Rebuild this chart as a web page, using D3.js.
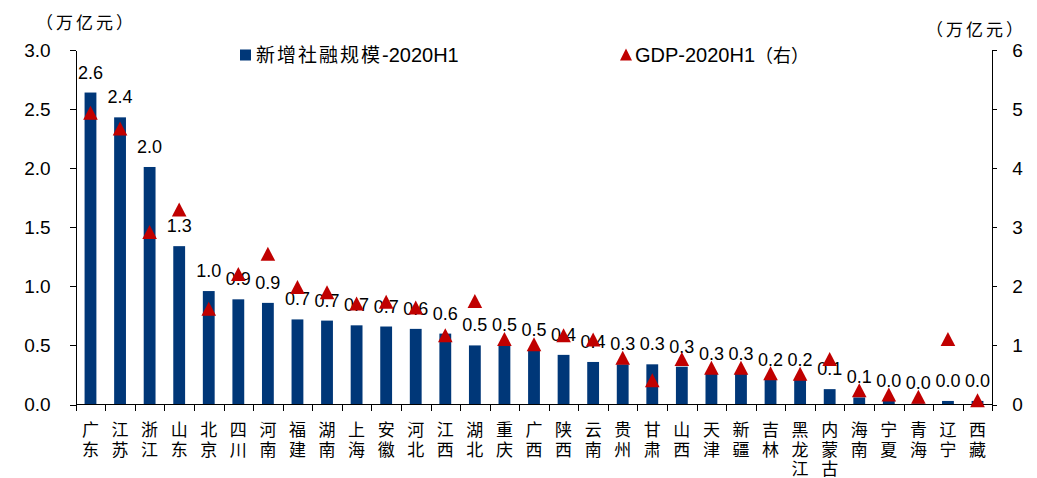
<!DOCTYPE html>
<html>
<head>
<meta charset="utf-8">
<script src="https://cdn.jsdelivr.net/npm/d3@7"></script>
<style>
  body { margin: 0; background: #fff; }
  svg { display: block; }
  .axis path, .axis line { stroke: #000; shape-rendering: crispEdges; }
  .axis text { font-family: "Liberation Sans", Arial, sans-serif; font-size: 19px; fill: #000; }
  .cn { font-family: "Noto Sans CJK SC", sans-serif; fill: #000; }
</style>
</head>
<body>
<div id="chart"></div>
<script>
// 省份（按新增社融规模排序）
var provinces = ["广东", "江苏", "浙江", "山东", "北京", "四川", "河南", "福建", "湖南", "上海", "安徽",
  "河北", "江西", "湖北", "重庆", "广西", "陕西", "云南", "贵州", "甘肃", "山西",
  "天津", "新疆", "吉林", "黑龙江", "内蒙古", "海南", "宁夏", "青海", "辽宁", "西藏"];

// 新增社融规模-2020H1（万亿元，左轴）
var tsfValues = [2.64, 2.43, 2.01, 1.34, 0.96, 0.89, 0.86, 0.72, 0.71, 0.67, 0.66,
  0.64, 0.60, 0.50, 0.50, 0.46, 0.42, 0.36, 0.34, 0.34, 0.32,
  0.26, 0.26, 0.21, 0.21, 0.13, 0.06, 0.03, 0.01, 0.03, 0.03];

// GDP-2020H1（万亿元，右轴）
var gdpValues = [4.94, 4.67, 2.92, 3.30, 1.62, 2.21, 2.55, 1.99, 1.90, 1.71, 1.74,
  1.64, 1.17, 1.75, 1.11, 1.02, 1.17, 1.10, 0.79, 0.41, 0.77,
  0.62, 0.62, 0.53, 0.52, 0.77, 0.24, 0.17, 0.13, 1.11, 0.07];

var leftTicks = [0, 0.5, 1.0, 1.5, 2.0, 2.5, 3.0];
var rightTicks = [0, 1, 2, 3, 4, 5, 6];

var width = 1037, height = 478;
var plotLeft = 75.7, plotRight = 992.3, plotTop = 50, plotBottom = 404.5;

var svg = d3.select("#chart").append("svg")
  .attr("width", width)
  .attr("height", height);

var data = provinces.map(function (p, i) {
  return { name: p, tsf: tsfValues[i], gdp: gdpValues[i] };
});

var x = d3.scaleBand().domain(provinces).range([plotLeft, plotRight]).padding(0);
var barW = x.bandwidth() * 0.4;

var yL = d3.scaleLinear().domain([0, 3]).range([plotBottom, plotTop]);
var yR = d3.scaleLinear().domain([0, 6]).range([plotBottom, plotTop]);

// bars
svg.append("g").selectAll("rect")
  .data(data)
  .enter().append("rect")
  .attr("x", function (d) { return x(d.name) + (x.bandwidth() - barW) / 2; })
  .attr("y", function (d) { return yL(d.tsf); })
  .attr("width", barW)
  .attr("height", function (d) { return plotBottom - yL(d.tsf); })
  .attr("fill", "#003778");

// bar value labels
svg.append("g").selectAll("text")
  .data(data)
  .enter().append("text")
  .attr("x", function (d) { return x(d.name) + x.bandwidth() / 2; })
  .attr("y", function (d) { return yL(d.tsf) - 14; })
  .attr("text-anchor", "middle")
  .style("font-family", "'Liberation Sans', Arial, sans-serif")
  .style("font-size", "18px")
  .text(function (d) { return d3.format(".1f")(d.tsf); });

// left axis
svg.append("g")
  .attr("class", "axis")
  .attr("transform", "translate(" + plotLeft + ",0)")
  .call(d3.axisLeft(yL).tickValues(leftTicks).tickFormat(d3.format(".1f"))
    .tickSize(6).tickSizeOuter(0).tickPadding(19));

// right axis
svg.append("g")
  .attr("class", "axis")
  .attr("transform", "translate(" + plotRight + ",0)")
  .call(d3.axisRight(yR).tickValues(rightTicks).tickFormat(d3.format("d"))
    .tickSize(5).tickSizeOuter(0).tickPadding(15));

// bottom axis with ticks at category boundaries
var xAxis = svg.append("g").attr("class", "axis");
xAxis.append("line")
  .attr("x1", plotLeft).attr("x2", plotRight)
  .attr("y1", plotBottom).attr("y2", plotBottom);
xAxis.selectAll("line.tick")
  .data(provinces.concat(["_end"]))
  .enter().append("line")
  .attr("class", "tick")
  .attr("x1", function (d, i) { return Math.round(plotLeft + i * x.step()) + 0.5; })
  .attr("x2", function (d, i) { return Math.round(plotLeft + i * x.step()) + 0.5; })
  .attr("y1", plotBottom).attr("y2", plotBottom + 6);

// vertical category labels
var lbl = svg.append("g").selectAll("text")
  .data(provinces)
  .enter().append("text")
  .attr("class", "cn")
  .attr("text-anchor", "middle")
  .style("font-size", "17px");
lbl.each(function (d) {
  var t = d3.select(this);
  var cx = x(d) + x.bandwidth() / 2;
  d.split("").forEach(function (ch, k) {
    t.append("tspan")
      .attr("x", cx)
      .attr("y", 436 + k * 19.5)
      .text(ch);
  });
});

// GDP triangles
var tri = "M0,-7L7.3,7L-7.3,7Z";
svg.append("g").selectAll("path")
  .data(data)
  .enter().append("path")
  .attr("d", tri)
  .attr("transform", function (d) {
    return "translate(" + (x(d.name) + x.bandwidth() / 2) + "," + yR(d.gdp) + ")";
  })
  .attr("fill", "#c00000");

// units
svg.append("text").attr("class", "cn")
  .attr("x", 36).attr("y", 29)
  .style("font-size", "17px")
  .style("letter-spacing", "3px")
  .text("（万亿元）");
svg.append("text").attr("class", "cn")
  .attr("x", 926).attr("y", 36)
  .style("font-size", "17px")
  .style("letter-spacing", "3px")
  .text("（万亿元）");

// legend
svg.append("rect")
  .attr("x", 240).attr("y", 49.5).attr("width", 11).attr("height", 11)
  .attr("fill", "#003778");
svg.append("text").attr("class", "cn")
  .attr("x", 256).attr("y", 62)
  .style("font-size", "19px")
  .style("letter-spacing", "2px")
  .text("新增社融规模")
  .append("tspan")
  .style("font-family", "'Liberation Sans', Arial, sans-serif")
  .style("font-size", "20px")
  .style("letter-spacing", "0px")
  .text("-2020H1");

svg.append("path")
  .attr("d", "M0,-6L6,6L-6,6Z")
  .attr("transform", "translate(626,54.5)")
  .attr("fill", "#c00000");
svg.append("text")
  .attr("x", 635).attr("y", 62)
  .style("font-family", "'Liberation Sans', Arial, sans-serif")
  .style("font-size", "20px")
  .text("GDP-2020H1")
  .append("tspan")
  .style("font-family", "'Noto Sans CJK SC', sans-serif")
  .style("font-size", "18px")
  .text("（右）");
</script>
</body>
</html>
